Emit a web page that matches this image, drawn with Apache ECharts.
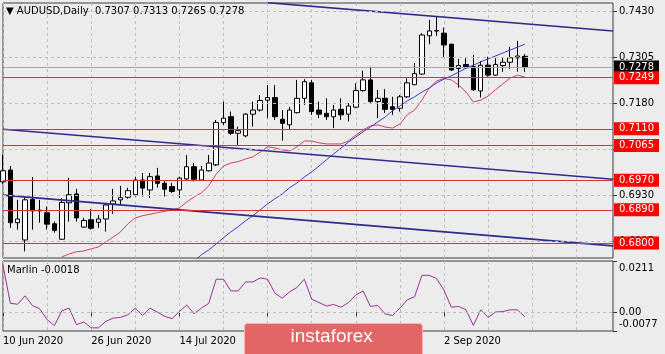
<!DOCTYPE html>
<html>
<head>
<meta charset="utf-8">
<title>AUDUSD Daily</title>
<script src="https://cdn.jsdelivr.net/npm/echarts@6/dist/echarts.min.js"></script>
<style>
  html, body { margin: 0; padding: 0; background: #ececec; }
  #chart { width: 665px; height: 354px; }
</style>
</head>
<body>
<div id="chart"></div>
<script>
// trading days shown on the axis (last bar is 17 Sep, the rest is empty space)
const tradingDays = [
  ['Jun', [10, 11, 12, 15, 16, 17, 18, 19, 22, 23, 24, 25, 26, 29, 30]],
  ['Jul', [1, 2, 3, 6, 7, 8, 9, 10, 13, 14, 15, 16, 17, 20, 21, 22, 23, 24, 27, 28, 29, 30, 31]],
  ['Aug', [3, 4, 5, 6, 7, 10, 11, 12, 13, 14, 17, 18, 19, 20, 21, 24, 25, 26, 27, 28, 31]],
  ['Sep', [1, 2, 3, 4, 7, 8, 9, 10, 11, 14, 15, 16, 17, 18, 21, 22, 23, 24, 25, 28, 29, 30]],
  ['Oct', [1, 2, 5]]
]
const dateLabelIdx = [0, 12, 24, 36, 48, 60]

const opens = [
  0.6966, 0.6998, 0.6855, 0.6808, 0.6918, 0.6889, 0.6882, 0.6852, 0.6810, 0.6909,
  0.6933, 0.6843, 0.6863, 0.6856, 0.6865, 0.6906, 0.6917, 0.6924, 0.6931, 0.6971,
  0.6944, 0.6982, 0.6962, 0.6953, 0.6944, 0.6974, 0.7007, 0.6971, 0.6996, 0.7012,
  0.7127, 0.7143, 0.7098, 0.7091, 0.7150, 0.7161, 0.7188, 0.7195, 0.7136, 0.7121,
  0.7154, 0.7193, 0.7235, 0.7161, 0.7152, 0.7143, 0.7163, 0.7150, 0.7169, 0.7214,
  0.7243, 0.7184, 0.7193, 0.7170, 0.7166, 0.7197, 0.7230, 0.7259, 0.7363, 0.7376,
  0.7370, 0.7340, 0.7274, 0.7285, 0.7279, 0.7213, 0.7283, 0.7256, 0.7282, 0.7291,
  0.7303, 0.7307
]
const closes = [
  0.6996, 0.6855, 0.6865, 0.6917, 0.6887, 0.6887, 0.6851, 0.6834, 0.6910, 0.6931,
  0.6868, 0.6861, 0.6840, 0.6865, 0.6903, 0.6914, 0.6923, 0.6942, 0.6971, 0.6949,
  0.6980, 0.6962, 0.6946, 0.6940, 0.6976, 0.7007, 0.6973, 0.6998, 0.7017, 0.7127,
  0.7139, 0.7098, 0.7105, 0.7150, 0.7161, 0.7187, 0.7195, 0.7143, 0.7125, 0.7161,
  0.7193, 0.7238, 0.7157, 0.7150, 0.7143, 0.7161, 0.7148, 0.7172, 0.7214, 0.7243,
  0.7184, 0.7193, 0.7163, 0.7163, 0.7197, 0.7235, 0.7260, 0.7365, 0.7376, 0.7377,
  0.7338, 0.7270, 0.7282, 0.7276, 0.7216, 0.7283, 0.7256, 0.7285, 0.7291, 0.7303,
  0.7308, 0.7278
]
const lows = [
  0.6960, 0.6841, 0.6836, 0.6777, 0.6836, 0.6855, 0.6836, 0.6828, 0.6808, 0.6858,
  0.6858, 0.6841, 0.6836, 0.6841, 0.6831, 0.6879, 0.6903, 0.6920, 0.6926, 0.6926,
  0.6922, 0.6950, 0.6926, 0.6936, 0.6922, 0.6971, 0.6967, 0.6969, 0.6994, 0.7009,
  0.7121, 0.7093, 0.7066, 0.7087, 0.7116, 0.7157, 0.7139, 0.7134, 0.7078, 0.7107,
  0.7152, 0.7175, 0.7148, 0.7139, 0.7134, 0.7112, 0.7134, 0.7130, 0.7166, 0.7211,
  0.7181, 0.7139, 0.7153, 0.7148, 0.7157, 0.7194, 0.7229, 0.7256, 0.7340, 0.7362,
  0.7303, 0.7267, 0.7222, 0.7274, 0.7213, 0.7195, 0.7252, 0.7254, 0.7265, 0.7273,
  0.7265, 0.7265
]
const highs = [
  0.7040, 0.7009, 0.6917, 0.6926, 0.6979, 0.6917, 0.6899, 0.6858, 0.6922, 0.6977,
  0.6947, 0.6868, 0.6892, 0.6876, 0.6909, 0.6947, 0.6955, 0.6950, 0.6980, 0.6990,
  0.6990, 0.7004, 0.6971, 0.6963, 0.6980, 0.7039, 0.7017, 0.7009, 0.7039, 0.7134,
  0.7184, 0.7157, 0.7116, 0.7153, 0.7184, 0.7202, 0.7229, 0.7229, 0.7161, 0.7169,
  0.7243, 0.7245, 0.7243, 0.7184, 0.7193, 0.7175, 0.7193, 0.7180, 0.7234, 0.7268,
  0.7279, 0.7216, 0.7218, 0.7197, 0.7202, 0.7248, 0.7289, 0.7370, 0.7406, 0.7415,
  0.7385, 0.7341, 0.7300, 0.7302, 0.7311, 0.7294, 0.7306, 0.7302, 0.7303, 0.7333,
  0.7349, 0.7313
]

// moving averages (red = fast, blue = slow)
const redMa = [
  null, null, null, null, null, null, null, null,
  0.6762, 0.6770, 0.6776, 0.6778, 0.6784, 0.6789, 0.6803, 0.6816, 0.6830, 0.6852,
  0.6868, 0.6874, 0.6878, 0.6882, 0.6886, 0.6890, 0.6895, 0.6911, 0.6925, 0.6936,
  0.6955, 0.6987, 0.7009, 0.7017, 0.7021, 0.7028, 0.7034, 0.7047, 0.7061, 0.7058,
  0.7053, 0.7050, 0.7061, 0.7077, 0.7077, 0.7072, 0.7069, 0.7069, 0.7069, 0.7077,
  0.7093, 0.7107, 0.7118, 0.7121, 0.7115, 0.7112, 0.7123, 0.7148, 0.7161, 0.7188,
  0.7221, 0.7240, 0.7247, 0.7243, 0.7229, 0.7210, 0.7183, 0.7188, 0.7199, 0.7216,
  0.7232, 0.7248, 0.7256, 0.7251
]
const blueMa = [
  null, null, null, null, null, null, null, null, null, null,
  null, null, null, null, null, null, null, null, null, null,
  null, null, null, null, null, null,
  0.6749, 0.6768, 0.6781, 0.6797, 0.6814, 0.6830, 0.6844, 0.6860, 0.6874, 0.6890,
  0.6906, 0.6920, 0.6933, 0.6950, 0.6963, 0.6979, 0.6993, 0.7009, 0.7026, 0.7042,
  0.7058, 0.7074, 0.7088, 0.7102, 0.7115, 0.7129, 0.7142, 0.7159, 0.7172, 0.7186,
  0.7197, 0.7210, 0.7221, 0.7235, 0.7245, 0.7254, 0.7264, 0.7275, 0.7283, 0.7292,
  0.7300, 0.7308, 0.7316, 0.7324, 0.7332, 0.7340
]

// trend lines: [bar index, price] end points
const topChannel = [[36, 0.7453], [83, 0.7376]]
const midChannel = [[0, 0.7109], [83, 0.6973]]
const lowChannel = [[0, 0.6930], [83, 0.6792]]

const levels = [0.7249, 0.7110, 0.7065, 0.6970, 0.6890, 0.6800]
const priceTicks = [0.7430, 0.7305, 0.7180, 0.7055, 0.6930, 0.6805]

const marlin = [
  0.0193, 0.0037, 0.0033, 0.0068, 0.0028, 0.0014, -0.0030, -0.0055, 0.0006, 0.0017,
  -0.0051, -0.0040, -0.0064, -0.0064, -0.0037, -0.0024, -0.0021, -0.0010, 0.0017, -0.0013,
  0.0017, 0.0001, -0.0017, -0.0026, 0.0003, 0.0030, -0.0006, 0.0017, 0.0037, 0.0136,
  0.0136, 0.0088, 0.0088, 0.0125, 0.0125, 0.0141, 0.0136, 0.0078, 0.0058, 0.0084,
  0.0102, 0.0136, 0.0054, 0.0040, 0.0026, 0.0032, 0.0021, 0.0040, 0.0071, 0.0088,
  0.0024, 0.0028, -0.0007, -0.0013, 0.0017, 0.0051, 0.0064, 0.0152, 0.0152, 0.0139,
  0.0091, 0.0021, 0.0024, 0.0010, -0.0054, 0.0010, -0.0021, 0.0001, 0.0003, 0.0010,
  0.0010, -0.0018
]
const marlinTicks = [0.0211, 0, -0.0077]

const days = []
tradingDays.forEach(([m, list]) => list.forEach(d => days.push(d + ' ' + m + ' 2020')))

const font = 'DejaVu Sans'
const last = closes.length - 1
const candles = opens.map((o, i) => [o, closes[i], lows[i], highs[i]])
const gridDash = { color: '#bdbdbd', type: [3, 3], width: 1 }
const showDate = (i) => dateLabelIdx.indexOf(i) !== -1

const chart = echarts.init(document.getElementById('chart'))
const option = {
  backgroundColor: '#ececec',
  animation: false,
  textStyle: { fontFamily: font },
  grid: [
    { left: 3, right: 52, top: 3, height: 255, show: true, borderColor: '#3c3c3c', borderWidth: 1 },
    { left: 3, right: 52, top: 261, height: 70, show: true, borderColor: '#3c3c3c', borderWidth: 1 }
  ],
  xAxis: [
    {
      type: 'category', gridIndex: 0, data: days, boundaryGap: false,
      axisLine: { show: false }, axisTick: { show: false }, axisLabel: { show: false },
      splitLine: { show: true, interval: (i) => i % 6 === 0, lineStyle: gridDash }
    },
    {
      type: 'category', gridIndex: 1, data: days, boundaryGap: false,
      axisLine: { show: false },
      axisTick: { show: true, interval: showDate, length: 4, lineStyle: { color: '#333' } },
      axisLabel: { interval: showDate, align: 'left', margin: 5, color: '#000', fontSize: 10, fontFamily: font },
      splitLine: { show: true, interval: (i) => i % 6 === 0, lineStyle: gridDash }
    }
  ],
  yAxis: [
    {
      type: 'value', gridIndex: 0, position: 'right', min: 0.6759, max: 0.7452,
      axisLine: { show: false }, splitLine: { show: false },
      axisTick: { show: true, customValues: priceTicks, length: 4, lineStyle: { color: '#333' } },
      axisLabel: {
        customValues: priceTicks, margin: 6, color: '#000', fontSize: 10, fontFamily: font,
        formatter: v => v.toFixed(4)
      }
    },
    {
      type: 'value', gridIndex: 1, position: 'right', min: -0.0077, max: 0.0211,
      axisLine: { show: false }, splitLine: { show: false },
      axisTick: { show: true, customValues: marlinTicks, length: 4, lineStyle: { color: '#333' } },
      axisLabel: {
        customValues: marlinTicks, margin: 6, color: '#000', fontSize: 10, fontFamily: font,
        formatter: v => v === 0 ? '0.00' : (v > 0 ? '{top|' + v.toFixed(4) + '}' : '{bot|' + v.toFixed(4) + '}'),
        rich: {
          top: { padding: [15, 0, 0, 0], color: '#000', fontSize: 10, fontFamily: font },
          bot: { padding: [0, 0, 13, 0], color: '#000', fontSize: 10, fontFamily: font }
        }
      }
    }
  ],
  series: [
    {
      // dashed price grid
      type: 'line', xAxisIndex: 0, yAxisIndex: 0, data: [], z: 1, silent: true,
      markLine: {
        silent: true, symbol: 'none', precision: 4, label: { show: false }, lineStyle: gridDash,
        data: priceTicks.map(v => ({ yAxis: v }))
      }
    },
    {
      type: 'candlestick', xAxisIndex: 0, yAxisIndex: 0, data: candles, barWidth: 5, z: 2,
      itemStyle: { color: '#fff', color0: '#000', borderColor: '#000', borderColor0: '#000', borderWidth: 1 }
    },
    {
      type: 'line', xAxisIndex: 0, yAxisIndex: 0, data: redMa, symbol: 'none', z: 3,
      lineStyle: { color: '#d2405c', width: 1 }
    },
    {
      type: 'line', xAxisIndex: 0, yAxisIndex: 0, data: blueMa, symbol: 'none', z: 3,
      lineStyle: { color: '#3b3bd0', width: 1 }
    },
    ...[topChannel, midChannel, lowChannel].map(pts => ({
      type: 'line', xAxisIndex: 0, yAxisIndex: 0, data: pts, symbol: 'none', z: 3,
      lineStyle: { color: '#2c2c8c', width: 1.6 }
    })),
    {
      // bid line and support / resistance levels
      type: 'line', xAxisIndex: 0, yAxisIndex: 0, data: [], z: 4, silent: true,
      markLine: {
        silent: true, symbol: 'none', precision: 4,
        data: [
          {
            yAxis: closes[last],
            lineStyle: { color: '#a9a9a9', type: 'solid', width: 1 },
            label: { backgroundColor: '#000' }
          },
          ...levels.map(v => ({ yAxis: v }))
        ],
        lineStyle: { color: '#e32f2f', type: 'solid', width: 1 },
        label: {
          show: true, position: 'end', distance: 1, formatter: p => Number(p.value).toFixed(4),
          color: '#fff', backgroundColor: '#f00', padding: [1, 5, 1, 5],
          fontSize: 10, fontFamily: font, lineHeight: 11
        }
      }
    },
    {
      type: 'line', xAxisIndex: 1, yAxisIndex: 1, data: marlin, symbol: 'none', z: 3,
      lineStyle: { color: '#9a2f9c', width: 1 },
      markLine: {
        silent: true, symbol: 'none', precision: 4, label: { show: false }, lineStyle: gridDash,
        data: [{ yAxis: 0 }]
      }
    }
  ],
  graphic: [
    {
      type: 'text', left: 6, top: 6, z: 10,
      style: {
        text: '▼ AUDUSD,Daily  ' + [opens[last], highs[last], lows[last], closes[last]].map(v => v.toFixed(4)).join(' '),
        fill: '#000', font: '10px "DejaVu Sans"'
      }
    },
    {
      type: 'text', left: 7, top: 265, z: 10,
      style: { text: 'Marlin ' + marlin[last].toFixed(4), fill: '#000', font: '10px "DejaVu Sans"' }
    },
    {
      // watermark
      type: 'group', left: 244, top: 323, z: 100,
      children: [
        { type: 'rect', z: 100, shape: { x: 0, y: 0, width: 178, height: 40, r: 3 }, style: { fill: '#e26666', stroke: '#f2b8b8', lineWidth: 1 } },
        { type: 'text', z: 101, style: { x: 46, y: 4, text: 'instaforex', fill: '#fff', font: '19px "Liberation Sans"' } }
      ]
    }
  ]
}
option && chart.setOption(option)
</script>
</body>
</html>
